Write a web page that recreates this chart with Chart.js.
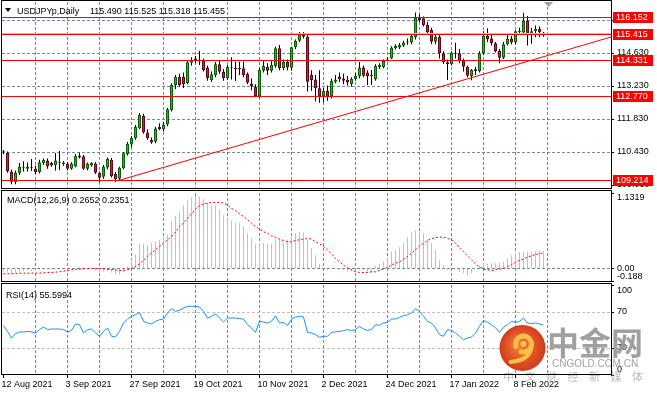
<!DOCTYPE html>
<html>
<head>
<meta charset="utf-8">
<title>USDJPYp Daily</title>
<script src="https://cdn.jsdelivr.net/npm/chart.js@4.4.1/dist/chart.umd.min.js"></script>
<style>
  html, body { margin: 0; padding: 0; background: #fff; }
  #chart-wrap { position: relative; width: 657px; height: 396px; overflow: hidden; background: #fff; }
  #chart-wrap canvas { position: absolute; left: 0; }
</style>
</head>
<body>
<div id="chart-wrap">
  <canvas id="priceChart" width="657" height="190" style="top:0px"></canvas>
  <canvas id="macdChart" width="657" height="94" style="top:189px"></canvas>
  <canvas id="rsiChart" width="657" height="113" style="top:283px"></canvas>
</div>
<script>
// --- data (one entry per daily bar, 12 Aug 2021 .. 17 Feb 2022) ---
const timeLabels = ['12 Aug 2021', '3 Sep 2021', '27 Sep 2021', '19 Oct 2021', '10 Nov 2021',
  '2 Dec 2021', '24 Dec 2021', '17 Jan 2022', '8 Feb 2022'];

const opens = [
  110.42, 110.40, 109.60, 109.15, 109.53, 109.74, 109.72, 109.80, 109.72, 109.58,
  109.96, 110.07, 109.96, 109.88, 109.98, 109.92, 109.94, 109.72, 109.82, 110.28,
  110.25, 109.72, 109.86, 109.94, 109.55, 109.38, 109.77, 110.10, 109.50, 109.30,
  109.74, 110.35, 110.75, 111.01, 111.45, 111.97, 111.26, 110.94, 110.87, 111.50,
  111.39, 111.60, 112.21, 113.27, 113.62, 113.62, 113.35, 114.22, 114.40, 114.30,
  114.30, 114.01, 113.48, 113.70, 114.15, 113.84, 113.56, 114.00, 113.98, 114.00,
  113.98, 113.74, 113.34, 113.20, 112.81, 113.88, 114.05, 113.88, 114.08, 114.83,
  113.98, 114.26, 114.00, 114.87, 115.15, 115.42, 115.32, 113.70, 113.51, 113.13,
  112.78, 113.03, 112.78, 113.41, 113.63, 113.55, 113.50, 113.30, 113.53, 113.63,
  114.01, 113.80, 113.65, 113.53, 114.04, 114.04, 114.35, 114.40, 114.83, 114.86,
  114.94, 115.10, 115.08, 115.30, 116.13, 116.10, 115.82, 115.61, 115.11, 115.32,
  114.62, 114.24, 114.15, 114.62, 114.62, 114.30, 114.05, 113.65, 113.94, 113.87,
  114.62, 115.35, 115.25, 115.04, 114.71, 114.43, 115.00, 115.25, 115.08, 115.51,
  115.50, 116.00, 115.42, 115.55, 115.65, 115.490
];
const highs = [
  110.52, 110.45, 109.68, 109.65, 109.96, 110.04, 109.98, 110.13, 109.85, 110.10,
  110.15, 110.15, 110.02, 110.39, 110.47, 110.05, 110.00, 110.00, 110.35, 110.40,
  110.30, 109.98, 110.00, 110.00, 109.60, 109.88, 110.20, 110.18, 109.58, 109.80,
  110.42, 110.85, 111.10, 111.58, 112.08, 112.05, 111.40, 111.05, 111.50, 111.65,
  111.70, 112.30, 113.35, 113.70, 113.75, 113.80, 114.30, 114.45, 114.50, 114.73,
  114.40, 114.10, 113.85, 114.25, 114.30, 113.95, 114.12, 114.45, 114.26, 114.26,
  114.26, 113.80, 113.55, 113.30, 114.00, 114.30, 114.20, 114.30, 114.90, 114.97,
  114.35, 114.35, 114.90, 115.20, 115.52, 115.52, 115.44, 113.90, 113.70, 113.90,
  113.15, 113.25, 113.55, 113.70, 113.80, 113.75, 113.65, 113.60, 113.78, 114.25,
  114.10, 113.90, 113.91, 114.15, 114.20, 114.35, 114.45, 114.92, 115.00, 115.05,
  115.15, 115.25, 115.40, 116.35, 116.27, 116.18, 115.95, 115.70, 115.40, 115.40,
  114.70, 114.35, 114.70, 115.06, 114.80, 114.40, 114.10, 113.95, 114.05, 114.70,
  115.55, 115.68, 115.40, 115.10, 114.80, 115.10, 115.40, 115.35, 115.60, 115.70,
  116.34, 116.20, 115.70, 115.80, 115.75, 115.525
];
const lows = [
  110.33, 109.55, 109.06, 109.06, 109.45, 109.60, 109.60, 109.62, 109.50, 109.52,
  109.88, 109.72, 109.80, 109.65, 109.67, 109.85, 109.65, 109.68, 109.78, 110.15,
  109.68, 109.66, 109.80, 109.50, 109.14, 109.30, 109.70, 109.35, 109.17, 109.21,
  109.70, 110.28, 110.62, 110.95, 111.40, 111.20, 110.95, 110.78, 110.80, 111.35,
  111.30, 111.52, 112.15, 113.10, 113.20, 113.15, 113.30, 114.10, 114.20, 114.12,
  113.85, 113.45, 113.40, 113.60, 113.75, 113.45, 113.50, 113.51, 113.44, 113.70,
  113.60, 113.30, 113.05, 112.75, 112.72, 113.80, 113.70, 113.80, 114.00, 113.90,
  113.90, 113.90, 113.88, 114.80, 115.10, 115.25, 113.00, 113.03, 112.57, 112.52,
  112.55, 112.60, 112.70, 113.35, 113.40, 113.30, 113.25, 113.20, 113.45, 113.55,
  113.60, 113.27, 113.27, 113.45, 113.95, 113.98, 114.28, 114.38, 114.78, 114.80,
  114.88, 114.98, 115.00, 115.20, 115.95, 115.75, 115.40, 115.00, 115.00, 114.40,
  114.16, 113.48, 114.10, 114.40, 114.20, 113.85, 113.60, 113.47, 113.70, 113.80,
  114.55, 115.10, 114.95, 114.65, 114.20, 114.38, 114.95, 115.00, 115.00, 115.40,
  115.40, 114.95, 115.02, 115.30, 115.30, 115.318
];
const closes = [
  110.45, 109.60, 109.17, 109.56, 109.81, 109.78, 109.82, 109.76, 109.58, 110.00,
  110.09, 109.82, 109.86, 110.07, 109.95, 109.98, 109.72, 109.94, 110.26, 110.20,
  109.72, 109.94, 109.96, 109.55, 109.34, 109.81, 110.13, 109.40, 109.28, 109.76,
  110.38, 110.78, 111.04, 111.50, 112.00, 111.26, 111.01, 110.83, 111.43, 111.40,
  111.60, 112.24, 113.27, 113.62, 113.27, 113.30, 114.24, 114.33, 114.29, 114.35,
  113.91, 113.56, 113.73, 114.15, 113.84, 113.56, 114.05, 114.05, 113.95, 113.95,
  113.70, 113.37, 113.23, 112.81, 113.91, 114.08, 113.88, 114.12, 114.83, 113.98,
  114.26, 114.02, 114.87, 115.15, 115.46, 115.32, 113.41, 113.48, 113.13, 112.78,
  113.03, 112.75, 113.44, 113.51, 113.52, 113.45, 113.38, 113.53, 113.67, 114.01,
  113.67, 113.63, 113.67, 114.08, 114.12, 114.29, 114.40, 114.86, 114.93, 114.98,
  115.08, 115.08, 115.35, 116.13, 116.03, 115.82, 115.51, 115.11, 115.32, 114.62,
  114.25, 114.15, 114.64, 114.60, 114.30, 114.05, 113.67, 113.91, 113.87, 114.62,
  115.35, 115.21, 115.04, 114.69, 114.43, 115.00, 115.25, 115.08, 115.55, 115.56,
  116.00, 115.42, 115.55, 115.65, 115.52, 115.455
];
const macdMain = [
  -0.05, -0.06, -0.07, -0.06, -0.05, -0.04, -0.03, -0.03, -0.04, -0.02,
  -0.01, -0.01, -0.02, -0.01, -0.01, -0.01, -0.02, -0.01, 0.01, 0.02,
  0.00, -0.01, -0.01, -0.03, -0.06, -0.05, -0.03, -0.06, -0.09, -0.09,
  -0.05, 0.03, 0.13, 0.21, 0.37, 0.37, 0.35, 0.38, 0.40, 0.43,
  0.48, 0.50, 0.71, 0.79, 0.85, 0.95, 1.03, 1.07, 1.09, 1.08,
  1.04, 0.98, 0.95, 0.94, 0.88, 0.80, 0.77, 0.72, 0.69, 0.68,
  0.63, 0.53, 0.45, 0.37, 0.38, 0.38, 0.37, 0.37, 0.44, 0.43,
  0.38, 0.43, 0.48, 0.53, 0.55, 0.54, 0.43, 0.30, 0.20, 0.07,
  0.00, -0.02, -0.01, 0.00, -0.02, -0.02, -0.05, -0.04, -0.02, 0.00,
  -0.02, -0.05, -0.06, 0.04, 0.07, 0.10, 0.15, 0.25, 0.28, 0.32,
  0.38, 0.47, 0.54, 0.57, 0.55, 0.53, 0.43, 0.38, 0.28, 0.12,
  0.05, -0.02, 0.00, -0.02, -0.05, -0.07, -0.11, -0.07, 0.00, 0.05,
  0.07, 0.07, 0.08, 0.08, 0.09, 0.10, 0.15, 0.20, 0.24, 0.25,
  0.26, 0.26, 0.25, 0.26, 0.27, 0.2652
];
const macdSignal = [
  -0.08, -0.08, -0.08, -0.075, -0.07, -0.07, -0.07, -0.07, -0.07, -0.07,
  -0.065, -0.06, -0.06, -0.055, -0.05, -0.04, -0.03, -0.02, -0.015, -0.01,
  -0.005, 0.00, 0.00, 0.00, 0.00, -0.005, -0.01, -0.015, -0.02, -0.03,
  -0.03, -0.02, 0.00, 0.03, 0.07, 0.12, 0.18, 0.23, 0.28, 0.33,
  0.38, 0.43, 0.48, 0.55, 0.63, 0.68, 0.75, 0.82, 0.89, 0.94,
  0.97, 0.98, 0.99, 0.99, 0.99, 0.98, 0.95, 0.90, 0.87, 0.82,
  0.78, 0.73, 0.68, 0.63, 0.59, 0.55, 0.53, 0.49, 0.47, 0.44,
  0.42, 0.40, 0.40, 0.42, 0.43, 0.44, 0.45, 0.44, 0.40, 0.37,
  0.33, 0.28, 0.22, 0.15, 0.10, 0.05, 0.01, -0.02, -0.05, -0.06,
  -0.06, -0.06, -0.05, -0.05, -0.03, -0.01, 0.02, 0.05, 0.08, 0.10,
  0.14, 0.18, 0.23, 0.28, 0.34, 0.38, 0.42, 0.45, 0.46, 0.47,
  0.47, 0.45, 0.43, 0.38, 0.31, 0.25, 0.19, 0.13, 0.07, 0.02,
  -0.01, -0.02, -0.03, -0.02, -0.01, 0.00, 0.03, 0.06, 0.09, 0.12,
  0.14, 0.17, 0.19, 0.21, 0.22, 0.2351
];
const rsiValues = [
  54.8, 48.5, 41.0, 46.0, 47.8, 47.8, 48.5, 47.8, 46.7, 50.4,
  53.3, 50.4, 51.1, 51.1, 51.1, 50.4, 47.8, 49.6, 56.7, 55.9,
  46.7, 50.4, 51.1, 46.7, 43.0, 48.5, 52.2, 43.0, 42.2, 48.5,
  57.8, 62.2, 65.2, 67.0, 69.6, 59.6, 57.8, 56.7, 59.6, 61.5,
  62.2, 68.9, 73.7, 70.7, 71.9, 74.4, 76.3, 76.3, 76.3, 75.6,
  70.7, 63.3, 65.2, 68.0, 63.3, 58.9, 63.3, 63.3, 63.3, 62.6,
  62.2, 55.9, 52.2, 47.4, 59.6, 58.9, 57.8, 59.6, 65.9, 57.8,
  58.5, 54.8, 62.2, 64.4, 65.2, 64.4, 47.4, 46.7, 44.8, 41.9,
  43.0, 43.0, 47.5, 47.8, 48.5, 49.3, 50.4, 49.3, 50.4, 54.0,
  51.1, 49.6, 50.4, 56.0, 55.2, 57.8, 58.5, 62.2, 62.2, 64.1,
  65.9, 67.0, 68.9, 73.7, 70.7, 65.2, 59.6, 57.8, 52.2, 44.8,
  43.0, 50.4, 49.6, 46.7, 43.0, 39.3, 41.1, 42.2, 46.7, 54.0,
  60.7, 58.5, 55.9, 52.5, 47.4, 53.0, 55.9, 59.6, 58.5, 59.6,
  63.3, 57.8, 57.0, 57.8, 56.7, 55.5994
];

const priceTicks = [109.030, 110.430, 111.830, 113.230, 114.630, 116.030];
const macdTicks = [-0.188, 0, 1.1319];
const rsiTicks = [0, 30, 70, 100];
const levels = [116.152, 115.415, 114.331, 112.770, 109.214];
const trendLine = [[28.6, 109.214], [151.9, 115.309]];   // [bar, price] anchors

// --- look ---
const FONT = '"Liberation Sans", Arial, sans-serif';
const GRID = '#778899';
const UP = '#19c219';
const UP_EDGE = '#0d5c0d';
const DOWN = '#e8143f';
const DOWN_EDGE = '#5e0818';
const priceMin = 108.903, priceMax = 116.794;
const xMin = -0.375, xMax = 151.875;   // 4 px per bar
const xTickValues = [];
for (let v = 0; v <= 144; v += 8) xTickValues.push(v);
const bars = closes.map((c, i) => i);

function xAxis(showLabels) {
  return {
    type: 'linear', min: xMin, max: xMax, offset: false,
    afterBuildTicks: s => { s.ticks = xTickValues.map(v => ({ value: v })); },
    afterFit: s => { s.height = showLabels ? 21 : 0; s.paddingLeft = 0; s.paddingRight = 0; },
    grid: {
      offset: false, drawTicks: showLabels, tickLength: 3, lineWidth: 1,
      color: c => (c.tick && c.tick.value === 0) ? 'rgba(0,0,0,0)' : GRID,
      tickColor: c => (c.tick && c.tick.value % 16 === 0) ? '#000' : 'rgba(0,0,0,0)'
    },
    border: { display: false, dash: [3, 2] },
    ticks: {
      display: showLabels, autoSkip: false, maxRotation: 0, minRotation: 0,
      align: 'start', labelOffset: -2, padding: 1, color: '#000',
      font: { family: FONT, size: 9 },
      callback: v => v % 16 === 0 ? timeLabels[v / 16] : ''
    }
  };
}

function yAxis(min, max, tickValues, label, gridColor, lineHeight) {
  return {
    position: 'right', min: min, max: max,
    afterBuildTicks: s => { s.ticks = tickValues.map(v => ({ value: v })); },
    afterFit: s => { s.width = 46; s.paddingTop = 0; s.paddingBottom = 0; },
    grid: { color: gridColor, tickLength: 3, tickColor: '#000', lineWidth: 1 },
    border: { display: false, dash: [3, 2] },
    ticks: { color: '#000', padding: 3, font: { family: FONT, size: 9, lineHeight: lineHeight }, callback: label }
  };
}

function baseOptions(padding, scales) {
  return {
    responsive: false, devicePixelRatio: 1, animation: false, events: [],
    layout: { autoPadding: false, padding: padding },
    plugins: { legend: { display: false }, tooltip: { enabled: false } },
    scales: scales
  };
}

function frame(top, height) {
  return {
    id: 'frame',
    afterDraw(chart) {
      const ctx = chart.ctx;
      ctx.save();
      ctx.strokeStyle = '#000';
      ctx.lineWidth = 1;
      ctx.strokeRect(1.5, top + 0.5, 610, height);
      ctx.restore();
    }
  };
}

// --- price panel ---
const priceOverlay = {
  id: 'priceOverlay',
  afterDatasetsDraw(chart) {
    const { ctx, chartArea: a, scales: { x, y } } = chart;
    ctx.save();
    ctx.beginPath();
    ctx.rect(a.left, a.top, a.right - a.left, a.bottom - a.top);
    ctx.clip();
    ctx.lineWidth = 1;
    // bid line
    ctx.strokeStyle = '#c0c0c0';
    const by = Math.floor(y.getPixelForValue(closes[closes.length - 1])) + 0.5;
    ctx.beginPath(); ctx.moveTo(a.left, by); ctx.lineTo(a.right, by); ctx.stroke();
    // horizontal levels
    ctx.strokeStyle = '#ff0000';
    levels.forEach(v => {
      const py = Math.floor(y.getPixelForValue(v)) + 0.5;
      ctx.beginPath(); ctx.moveTo(a.left, py); ctx.lineTo(a.right, py); ctx.stroke();
    });
    // trend line
    ctx.beginPath();
    ctx.moveTo(x.getPixelForValue(trendLine[0][0]), y.getPixelForValue(trendLine[0][1]));
    ctx.lineTo(x.getPixelForValue(trendLine[1][0]), y.getPixelForValue(trendLine[1][1]));
    ctx.stroke();
    ctx.restore();
  },
  afterDraw(chart) {
    const { ctx, scales: { y } } = chart;
    ctx.save();
    // price labels for the levels
    ctx.font = '9px ' + FONT;
    ctx.textBaseline = 'middle';
    levels.forEach(v => {
      const py = Math.floor(y.getPixelForValue(v)) + 0.5;
      ctx.fillStyle = '#ff0000';
      ctx.fillRect(613, Math.round(py - 5.5), 40, 11);
      ctx.fillStyle = '#fff';
      ctx.fillText(v.toFixed(3), 616, py + 0.5);
    });
    // header
    const last = closes.length - 1;
    ctx.fillStyle = '#000';
    ctx.beginPath(); ctx.moveTo(5, 8); ctx.lineTo(11, 8); ctx.lineTo(8, 12); ctx.closePath(); ctx.fill();
    ctx.textBaseline = 'alphabetic';
    ctx.fillText('USDJPYp,Daily', 17, 14);
    ctx.fillText([opens[last], highs[last], lows[last], closes[last]].map(v => v.toFixed(3)).join(' '), 90, 14);
    // chart shift marker
    ctx.fillStyle = '#a0a0a0';
    ctx.beginPath(); ctx.moveTo(544, 2); ctx.lineTo(553, 2); ctx.lineTo(548.5, 7); ctx.closePath(); ctx.fill();
    ctx.restore();
  }
};

new Chart(document.getElementById('priceChart'), {
  type: 'bar',
  data: {
    datasets: [
      {
        label: 'body',
        data: bars.map(i => ({ x: i, y: [opens[i], closes[i]] })),
        backgroundColor: bars.map(i => closes[i] >= opens[i] ? UP : DOWN),
        borderColor: bars.map(i => closes[i] >= opens[i] ? UP_EDGE : DOWN_EDGE),
        borderWidth: 1, borderSkipped: false,
        barThickness: 3, minBarLength: 1, inflateAmount: 0, grouped: false, order: 0
      },
      {
        label: 'wick',
        data: bars.map(i => ({ x: i, y: [lows[i], highs[i]] })),
        backgroundColor: '#000', barThickness: 1, inflateAmount: 0, grouped: false, order: 1
      }
    ]
  },
  options: baseOptions({ left: 2, right: 0, top: 2, bottom: 2 }, {
    x: xAxis(false),
    y: yAxis(priceMin, priceMax, priceTicks, v => v.toFixed(3),
      c => (c.tick && c.tick.value === priceTicks[0]) ? 'rgba(0,0,0,0)' : GRID, 1.2)
  }),
  plugins: [priceOverlay, frame(0, 188)]
});

// --- MACD panel ---
const macdLabel = {
  id: 'macdLabel',
  afterDraw(chart) {
    const ctx = chart.ctx;
    const last = macdMain.length - 1;
    ctx.save();
    ctx.font = '9px ' + FONT;
    ctx.fillStyle = '#000';
    ctx.fillText('MACD(12,26,9) ' + macdMain[last].toFixed(4) + ' ' + macdSignal[last].toFixed(4), 7, 14);
    ctx.restore();
  }
};

new Chart(document.getElementById('macdChart'), {
  type: 'bar',
  data: {
    datasets: [
      {
        type: 'line', label: 'Signal',
        data: bars.map(i => ({ x: i, y: macdSignal[i] })),
        borderColor: '#ff0000', borderWidth: 1, borderDash: [2, 2], pointRadius: 0, order: 0
      },
      {
        label: 'MACD',
        data: bars.map(i => ({ x: i, y: macdMain[i] })),
        backgroundColor: '#c0c0c0', barThickness: 1, inflateAmount: 0, grouped: false, order: 1
      }
    ]
  },
  options: baseOptions({ left: 2, right: 0, top: 4, bottom: 2 }, {
    x: xAxis(false),
    y: yAxis(macdTicks[0], macdTicks[2], macdTicks,
      v => v === macdTicks[2] ? ['', '1.1319'] : (v === macdTicks[0] ? ['-0.188', ''] : '0.00'),
      c => (c.tick && c.tick.value === 0) ? GRID : 'rgba(0,0,0,0)', 1.0)
  }),
  plugins: [macdLabel, frame(1, 91)]
});

// --- RSI panel ---
const rsiOverlay = {
  id: 'rsiOverlay',
  afterDraw(chart) {
    const ctx = chart.ctx;
    ctx.save();
    ctx.font = '9px ' + FONT;
    ctx.fillStyle = '#000';
    ctx.fillText('RSI(14) ' + rsiValues[rsiValues.length - 1].toFixed(4), 6, 15);

    // watermark logo
    const cx = 522.5, cy = 65, r = 23;
    const g = ctx.createRadialGradient(cx - 4, cy - 4, 3, cx, cy, r);
    g.addColorStop(0, '#f27a32');
    g.addColorStop(1, '#d23a1c');
    ctx.fillStyle = g;
    ctx.beginPath(); ctx.arc(cx, cy, r, 0, Math.PI * 2); ctx.fill();
    ctx.strokeStyle = '#f8c04a';
    ctx.lineCap = 'round';
    ctx.lineWidth = 5;
    ctx.beginPath(); ctx.arc(cx + 1, cy - 4, 8, Math.PI * 0.9, Math.PI * 2.6); ctx.stroke();
    ctx.lineWidth = 4;
    ctx.beginPath(); ctx.moveTo(cx - 12, cy + 14); ctx.quadraticCurveTo(cx + 8, cy + 12, cx + 9, cy - 2); ctx.stroke();
    ctx.fillStyle = '#f8c04a';
    ctx.beginPath(); ctx.arc(cx + 1, cy - 4, 3, 0, Math.PI * 2); ctx.fill();

    ctx.fillStyle = 'rgba(150,150,150,0.9)';
    ctx.font = 'bold 32px "Noto Sans CJK SC"';
    ctx.fillText('中金网', 547, 71.5);
    ctx.font = '10px ' + FONT;
    ctx.fillStyle = 'rgba(150,150,150,0.9)';
    ctx.fillText('CNGOLD.COM.CN', 552, 84);
    ctx.font = '11px "Noto Sans CJK SC"';
    ctx.fillStyle = 'rgba(175,175,175,0.85)';
    ctx.textBaseline = 'middle';
    Array.from('中文财经新媒体').forEach((ch, k) => ctx.fillText(ch, 503 + k * 21.5, 94));
    ctx.restore();
  }
};

new Chart(document.getElementById('rsiChart'), {
  type: 'line',
  data: {
    datasets: [{
      label: 'RSI(14)',
      data: bars.map(i => ({ x: i, y: rsiValues[i] })),
      borderColor: '#1e90ff', borderWidth: 1, pointRadius: 0
    }]
  },
  options: baseOptions({ left: 2, right: 0, top: 2, bottom: 0 }, {
    x: xAxis(true),
    y: yAxis(0, 100, rsiTicks,
      v => v === 100 ? ['', '100'] : (v === 0 ? ['0', ''] : String(v)),
      c => (c.tick && (c.tick.value === 30 || c.tick.value === 70)) ? '#c0c0c0' : 'rgba(0,0,0,0)', 1.3)
  }),
  plugins: [rsiOverlay, frame(0, 91)]
});
</script>
</body>
</html>
